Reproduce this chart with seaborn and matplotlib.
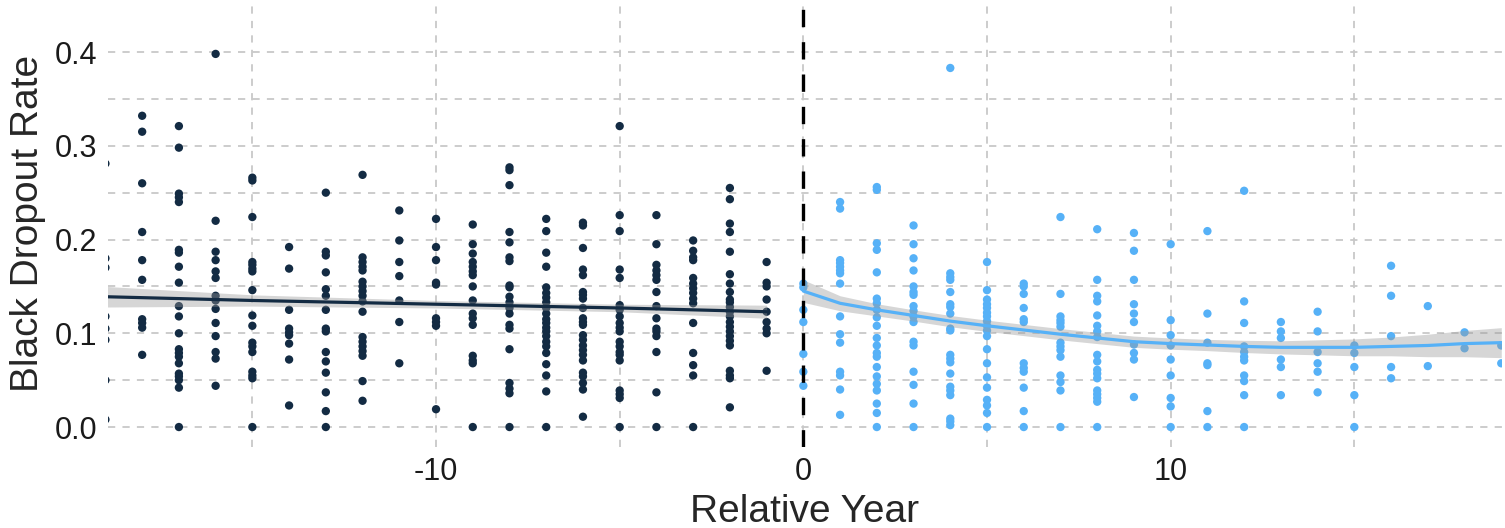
import pandas as pd
import matplotlib
matplotlib.use("Agg")
import matplotlib.pyplot as plt
import seaborn as sns

# Relative years and observed dropout rates (one list of rates per year)
pre_years = list(range(-19, 0))
pre_rates = [
    [0.281, 0.180, 0.170, 0.118, 0.105, 0.093, 0.050, 0.008],
    [0.332, 0.315, 0.260, 0.208, 0.178, 0.157, 0.115, 0.111, 0.106, 0.077],
    [0.321, 0.298, 0.249, 0.245, 0.240, 0.189, 0.186, 0.171, 0.154, 0.129, 0.118,
     0.100, 0.083, 0.079, 0.075, 0.068, 0.057, 0.054, 0.050, 0.042, 0.0],
    [0.398, 0.220, 0.187, 0.178, 0.166, 0.159, 0.140, 0.135, 0.126, 0.111, 0.097,
     0.080, 0.073, 0.044],
    [0.266, 0.263, 0.224, 0.176, 0.173, 0.169, 0.166, 0.146, 0.119, 0.108, 0.090,
     0.086, 0.080, 0.059, 0.055, 0.052, 0.0],
    [0.192, 0.169, 0.125, 0.105, 0.101, 0.098, 0.089, 0.072, 0.023],
    [0.250, 0.187, 0.183, 0.165, 0.147, 0.140, 0.125, 0.105, 0.102, 0.080, 0.070,
     0.058, 0.037, 0.017, 0.0],
    [0.269, 0.181, 0.176, 0.171, 0.167, 0.155, 0.150, 0.145, 0.140, 0.134, 0.123,
     0.096, 0.091, 0.086, 0.081, 0.076, 0.049, 0.028],
    [0.231, 0.199, 0.176, 0.161, 0.135, 0.112, 0.068],
    [0.222, 0.192, 0.178, 0.154, 0.152, 0.116, 0.112, 0.108, 0.019],
    [0.216, 0.195, 0.185, 0.176, 0.171, 0.166, 0.162, 0.150, 0.135, 0.121, 0.116,
     0.109, 0.076, 0.071, 0.068, 0.0],
    [0.277, 0.274, 0.258, 0.208, 0.197, 0.181, 0.177, 0.151, 0.149, 0.139, 0.133,
     0.127, 0.121, 0.109, 0.105, 0.083, 0.047, 0.041, 0.036, 0.0],
    [0.222, 0.209, 0.186, 0.171, 0.149, 0.143, 0.138, 0.133, 0.127, 0.121, 0.115,
     0.111, 0.106, 0.102, 0.097, 0.091, 0.086, 0.079, 0.067, 0.055, 0.038, 0.0],
    [0.218, 0.215, 0.191, 0.168, 0.162, 0.144, 0.141, 0.137, 0.127, 0.116, 0.112,
     0.109, 0.098, 0.093, 0.087, 0.082, 0.077, 0.071, 0.058, 0.054, 0.047, 0.040, 0.011],
    [0.321, 0.226, 0.209, 0.168, 0.159, 0.130, 0.125, 0.118, 0.111, 0.106, 0.102,
     0.091, 0.086, 0.080, 0.077, 0.071, 0.039, 0.035, 0.031, 0.0],
    [0.226, 0.195, 0.173, 0.167, 0.162, 0.157, 0.144, 0.129, 0.116, 0.105, 0.102,
     0.097, 0.080, 0.037, 0.0],
    [0.199, 0.188, 0.181, 0.178, 0.159, 0.153, 0.148, 0.143, 0.137, 0.132, 0.111,
     0.079, 0.066, 0.055, 0.0],
    [0.255, 0.243, 0.217, 0.208, 0.187, 0.163, 0.153, 0.144, 0.136, 0.133, 0.128,
     0.123, 0.118, 0.112, 0.107, 0.102, 0.097, 0.092, 0.087, 0.060, 0.055, 0.052, 0.021],
    [0.176, 0.154, 0.150, 0.136, 0.123, 0.112, 0.105, 0.100, 0.060],
]

post_years = list(range(0, 20))
post_rates = [
    [0.153, 0.149, 0.125, 0.112, 0.078, 0.059, 0.044],
    [0.240, 0.233, 0.178, 0.175, 0.171, 0.167, 0.164, 0.153, 0.118, 0.099, 0.090,
     0.059, 0.055, 0.040, 0.013],
    [0.256, 0.253, 0.196, 0.189, 0.165, 0.137, 0.132, 0.125, 0.117, 0.108, 0.095,
     0.087, 0.079, 0.075, 0.064, 0.054, 0.046, 0.039, 0.025, 0.015, 0.0],
    [0.215, 0.195, 0.180, 0.167, 0.150, 0.144, 0.141, 0.129, 0.124, 0.118, 0.112,
     0.091, 0.087, 0.059, 0.045, 0.025, 0.0],
    [0.383, 0.164, 0.160, 0.157, 0.144, 0.131, 0.128, 0.121, 0.105, 0.103, 0.077,
     0.073, 0.069, 0.057, 0.043, 0.039, 0.034, 0.009, 0.006, 0.002],
    [0.176, 0.146, 0.136, 0.131, 0.127, 0.122, 0.118, 0.113, 0.108, 0.103, 0.097,
     0.083, 0.068, 0.053, 0.042, 0.029, 0.023, 0.015, 0.0],
    [0.153, 0.150, 0.142, 0.127, 0.115, 0.112, 0.068, 0.063, 0.059, 0.042, 0.017, 0.0],
    [0.224, 0.142, 0.118, 0.114, 0.111, 0.107, 0.090, 0.086, 0.082, 0.075, 0.055,
     0.048, 0.039, 0.0],
    [0.211, 0.157, 0.140, 0.134, 0.119, 0.108, 0.102, 0.096, 0.077, 0.070, 0.061,
     0.057, 0.052, 0.039, 0.035, 0.031, 0.027, 0.0],
    [0.207, 0.188, 0.157, 0.131, 0.121, 0.112, 0.088, 0.079, 0.072, 0.032],
    [0.195, 0.114, 0.098, 0.087, 0.072, 0.055, 0.031, 0.022, 0.0],
    [0.209, 0.121, 0.090, 0.068, 0.066, 0.017, 0.0],
    [0.252, 0.134, 0.111, 0.086, 0.080, 0.075, 0.071, 0.055, 0.049, 0.034, 0.0],
    [0.112, 0.102, 0.095, 0.072, 0.064, 0.034],
    [0.123, 0.102, 0.080, 0.068, 0.059, 0.037],
    [0.087, 0.079, 0.064, 0.034, 0.0],
    [0.172, 0.140, 0.097, 0.064, 0.052],
    [0.129, 0.065],
    [0.101, 0.084],
    [0.087, 0.068],
]

# Smoothed trend lines and their confidence bands
pre_fit_x = [-19, -15, -10, -5, -1]
pre_fit = [0.139, 0.135, 0.131, 0.127, 0.123]
pre_band = [0.011, 0.006, 0.004, 0.004, 0.007]

post_fit_x = list(range(0, 20))
post_fit = [0.145, 0.132, 0.125, 0.119, 0.113, 0.108, 0.1035, 0.099, 0.095, 0.091,
            0.089, 0.0875, 0.086, 0.085, 0.085, 0.085, 0.086, 0.087, 0.089, 0.090]
post_band = [0.012, 0.008, 0.0065, 0.006, 0.006, 0.006, 0.006, 0.006, 0.006, 0.006,
             0.006, 0.006, 0.0065, 0.007, 0.008, 0.009, 0.010, 0.012, 0.014, 0.016]

x_major = [-10, 0, 10]
x_minor = [-15, -5, 5, 15]
y_major = [0.0, 0.1, 0.2, 0.3, 0.4]
y_minor = [0.05, 0.15, 0.25, 0.35]

PRE_COLOR = "#132B43"
POST_COLOR = "#56B1F7"


def long_frame(years, rates, period):
    rows = [(yr, r, period) for yr, col in zip(years, rates) for r in col]
    return pd.DataFrame(rows, columns=["year", "rate", "period"])


df = pd.concat([long_frame(pre_years, pre_rates, "pre"),
                long_frame(post_years, post_rates, "post")], ignore_index=True)

sns.set_style("white")
plt.rcParams["font.family"] = ["Liberation Sans", "DejaVu Sans"]

fig = plt.figure(figsize=(15.05, 5.28), dpi=100)
ax = fig.add_axes([108 / 1505, 1 - 447 / 528, 1394 / 1505, 447 / 528])

grid_kw = dict(color="#c8c8c8", linewidth=1.3, dashes=(4, 4), zorder=0)
for v in x_major + x_minor:
    ax.axvline(v, **grid_kw)
for v in y_major + y_minor:
    ax.axhline(v, **grid_kw)

sns.scatterplot(data=df, x="year", y="rate", hue="period",
                palette={"pre": PRE_COLOR, "post": POST_COLOR},
                s=36, linewidth=0, legend=False, ax=ax, zorder=2)

# confidence ribbons drawn over the points, then the fitted lines
for fx, fy, fb, col in [(pre_fit_x, pre_fit, pre_band, PRE_COLOR),
                        (post_fit_x, post_fit, post_band, POST_COLOR)]:
    lo = [y - b for y, b in zip(fy, fb)]
    hi = [y + b for y, b in zip(fy, fb)]
    ax.fill_between(fx, lo, hi, color="#999999", alpha=0.4, linewidth=0, zorder=3)
    sns.lineplot(x=fx, y=fy, color=col, linewidth=2.3, ax=ax, zorder=4)

ax.axvline(0, color="black", linewidth=2.4, dashes=(5.2, 4.5), zorder=5)

ax.set_xlim(-18.93, 19.02)
ax.set_ylim(-0.0213, 0.4555)
ax.set_xticks(x_major)
ax.set_xticklabels([str(v) for v in x_major])
ax.set_yticks(y_major)
ax.set_yticklabels([f"{v:.1f}" for v in y_major])
ax.tick_params(axis="both", which="major", length=5, width=1.3, color="#c8c8c8",
               labelsize=22, labelcolor="#1a1a1a")
ax.tick_params(axis="x", pad=2)
ax.tick_params(axis="y", pad=3)
for s in ax.spines.values():
    s.set_visible(False)

ax.set_xlabel("Relative Year", fontsize=28, labelpad=5)
ax.set_ylabel("Black Dropout Rate", fontsize=28, labelpad=6)

fig.savefig("out.png", dpi=100)
